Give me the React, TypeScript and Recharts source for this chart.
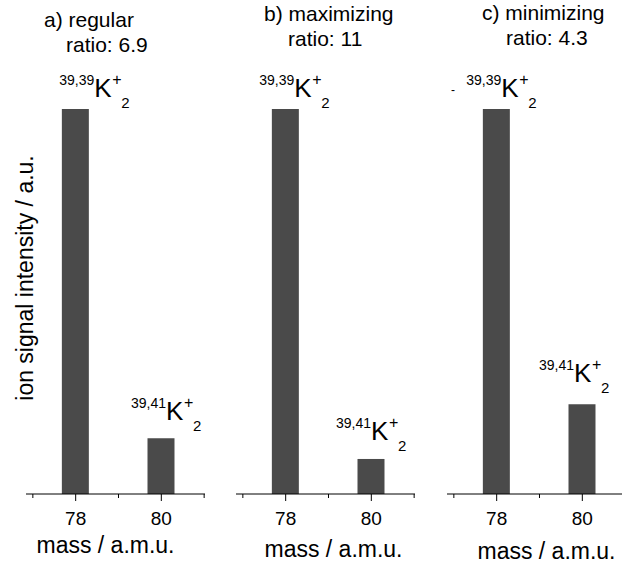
import React from "react";
import { BarChart, Bar, XAxis, YAxis, LabelList, Label } from "recharts";

const masses = [78, 80];
const isotopes = ["39,39", "39,41"];
const panelTitles = ["a) regular", "b) maximizing", "c) minimizing"];
const panelRatios = ["ratio: 6.9", "ratio: 11", "ratio: 4.3"];
// peak heights, normalised to the 78 peak
const regular = [100, 14.5];
const maximizing = [100, 9.1];
const minimizing = [100, 23.3];
const axisTicks = [77, 78, 79, 80, 81];
const labeledTicks = [78, 80];

const FONT = '"Liberation Sans", Arial, Helvetica, sans-serif';
const PANEL_W = 210;
const PANEL_H = 564;

// layout of each panel (kept apart from the data)
const panels = [
  { values: regular, left: 0, titleX: [44, 66], titleY: [27, 52], massDx: -10, massDy: 59, peak: [[19, -12], [5, -18]] },
  { values: maximizing, left: 210, titleX: [54, 78], titleY: [21, 46], massDx: 8, massDy: 63, peak: [[9, -12], [0, -19]] },
  { values: minimizing, left: 421, titleX: [61, 85], titleY: [20, 45], massDx: 10, massDy: 65, peak: [[5, -12], [-8, -22]] },
];

const MassTick = (props: any) => {
  const { x, y, payload } = props;
  const major = labeledTicks.includes(payload.value);
  return (
    <g>
      <line x1={x} x2={x} y1={y} y2={y + (major ? 7 : 4)} stroke="#000" strokeWidth={1} />
      {major && (
        <text x={x} y={y + 31} textAnchor="middle" fontSize={19} fontFamily={FONT} fill="#000">
          {payload.value}
        </text>
      )}
    </g>
  );
};

const peakLabel = (offsets: number[][]) => (props: any) => {
  const { x, y, width, index, value } = props;
  const [dx, dy] = offsets[index];
  const jx = x + width / 2 + dx;
  const by = y + dy;
  return (
    <g fontFamily={FONT} fill="#000">
      <text x={jx} y={by - 12} fontSize={14} textAnchor="end">{value}</text>
      <text x={jx} y={by} fontSize={26}>K</text>
      <text x={jx + 18} y={by - 12} fontSize={16}>+</text>
      <text x={jx + 27} y={by + 11} fontSize={15}>2</text>
    </g>
  );
};

function Panel({ p }: { p: (typeof panels)[number] }) {
  const data = masses.map((m, i) => ({ mass: m, intensity: p.values[i], isotope: isotopes[i] }));
  return (
    <BarChart
      width={PANEL_W}
      height={PANEL_H}
      data={data}
      margin={{ top: 109, right: 5, bottom: 0, left: 26 }}
    >
      <XAxis
        type="number"
        dataKey="mass"
        scale="linear"
        domain={[76.84, 81.02]}
        allowDataOverflow
        ticks={axisTicks}
        interval={0}
        height={70}
        tickLine={false}
        tickSize={0}
        tickMargin={0}
        tick={<MassTick />}
        axisLine={{ stroke: "#000", strokeWidth: 1 }}
      >
        <Label
          content={(lp: any) => {
            const vb = lp.viewBox;
            return (
              <text
                x={vb.x + vb.width / 2 + p.massDx}
                y={vb.y + p.massDy}
                textAnchor="middle"
                fontSize={23}
                fontFamily={FONT}
                fill="#000"
              >
                mass / a.m.u.
              </text>
            );
          }}
        />
      </XAxis>
      <YAxis hide domain={[0, 100]} />
      <Bar dataKey="intensity" fill="#4a4a4a" barSize={27} isAnimationActive={false}>
        <LabelList dataKey="isotope" content={peakLabel(p.peak)} />
      </Bar>
    </BarChart>
  );
}

export default function App() {
  return (
    <div
      style={{
        position: "absolute",
        left: 0,
        top: 0,
        width: 622,
        height: 564,
        overflow: "hidden",
        background: "#fff",
      }}
    >
      {panels.map((p, i) => (
        <div key={i} style={{ position: "absolute", left: p.left, top: 0 }}>
          <Panel p={p} />
        </div>
      ))}
      <svg
        width={622}
        height={564}
        style={{ position: "absolute", left: 0, top: 0, pointerEvents: "none" }}
        fontFamily={FONT}
      >
        {panels.map((p, i) => (
          <g key={i} fontSize={21} fill="#000">
            <text x={p.left + p.titleX[0]} y={p.titleY[0]}>{panelTitles[i]}</text>
            <text x={p.left + p.titleX[1]} y={p.titleY[1]}>{panelRatios[i]}</text>
          </g>
        ))}
        <text x={451} y={94} fontSize={12} fill="#000">-</text>
        <text
          transform="translate(33, 278) rotate(-90)"
          textAnchor="middle"
          fontSize={23}
          fill="#000"
        >
          ion signal intensity / a.u.
        </text>
      </svg>
    </div>
  );
}
